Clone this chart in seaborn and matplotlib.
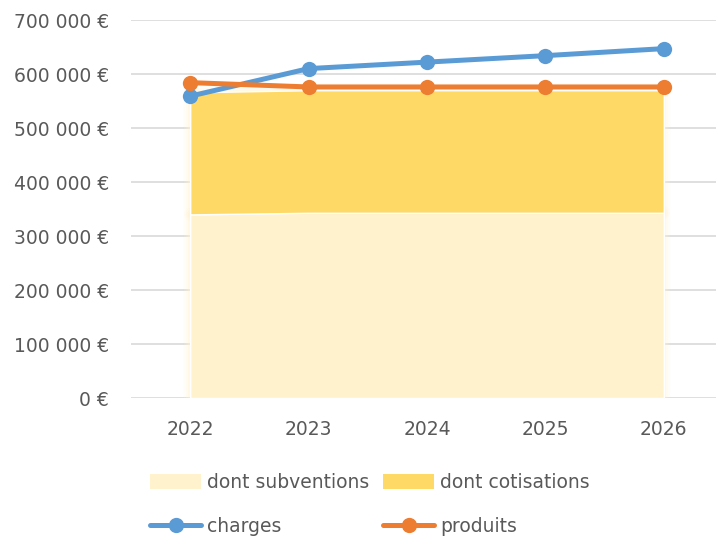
import matplotlib
matplotlib.use("Agg")
import matplotlib.pyplot as plt
import seaborn as sns
import pandas as pd
import numpy as np
from matplotlib.patches import Patch
from matplotlib.lines import Line2D
from matplotlib.ticker import FuncFormatter

years = ["2022", "2023", "2024", "2025", "2026"]
subventions = [340000, 343000, 343000, 343000, 343000]
cotisations = [226000, 227000, 227000, 227000, 227000]
charges = [559000, 610000, 622000, 634000, 647000]
produits = [584000, 576000, 576000, 576000, 576000]
yticks = [0, 100000, 200000, 300000, 400000, 500000, 600000, 700000]

sns.set_theme(style="white")
plt.rcParams["font.family"] = ["DejaVu Sans"]

TXT = "#595959"
C_SUB = "#FFF2CC"
C_COT = "#FFD966"
C_CH = "#5B9BD5"
C_PR = "#ED7D31"

x = np.arange(len(years))
df = pd.DataFrame({"x": np.concatenate([x, x]),
                   "value": charges + produits,
                   "serie": ["charges"] * len(x) + ["produits"] * len(x)})

fig = plt.figure(figsize=(7.16, 5.39), dpi=100)
ax = fig.add_axes([131 / 716, 1 - 398 / 539, (723 - 131) / 716, (398 - 20) / 539])

ax.stackplot(x, subventions, cotisations, colors=[C_SUB, C_COT], zorder=2)
# soft glow around the bands (as in the reference)
for w, a in [(9, 0.12), (6, 0.18), (3, 0.3)]:
    ax.stackplot(x, subventions, cotisations, colors=["none", "none"],
                 edgecolor=[C_SUB, C_COT], linewidth=w, alpha=a, zorder=1.9)

sns.lineplot(data=df, x="x", y="value", hue="serie",
             palette={"charges": C_CH, "produits": C_PR},
             marker="o", markersize=11, markeredgewidth=0,
             linewidth=3.6, ax=ax, legend=False, zorder=3)

ax.set_xlim(-0.5, len(years) - 0.5)
ax.set_ylim(0, 700000)
ax.set_yticks(yticks)
ax.yaxis.set_major_formatter(FuncFormatter(lambda v, p: (f"{int(v):,}".replace(",", " ") + " €")))
ax.set_xticks(x)
ax.set_xticklabels(years)
ax.set_xlabel("")
ax.set_ylabel("")
for s in ax.spines.values():
    s.set_visible(False)
ax.grid(axis="y", color="#D9D9D9", linewidth=1.2, zorder=0)
ax.grid(axis="x", visible=False)
ax.set_axisbelow(True)
ax.tick_params(axis="y", length=0, pad=16, labelsize=13.5, labelcolor=TXT)
ax.tick_params(axis="x", length=0, pad=16, labelsize=13.5, labelcolor=TXT)

handles = [Patch(facecolor=C_SUB, edgecolor="none"),
           Line2D([], [], color=C_CH, lw=3.6, marker="o", markersize=11, markeredgewidth=0),
           Patch(facecolor=C_COT, edgecolor="none"),
           Line2D([], [], color=C_PR, lw=3.6, marker="o", markersize=11, markeredgewidth=0)]
labels = ["dont subventions", "charges", "dont cotisations", "produits"]
leg = fig.legend(handles, labels, ncol=2, loc="center", bbox_to_anchor=(0.517, 0.064),
                 frameon=False, fontsize=13.5, handlelength=2.7, handleheight=0.9,
                 handletextpad=0.35, columnspacing=0.72, labelspacing=1.36)
for t in leg.get_texts():
    t.set_color(TXT)

fig.savefig("out.png", dpi=100)
